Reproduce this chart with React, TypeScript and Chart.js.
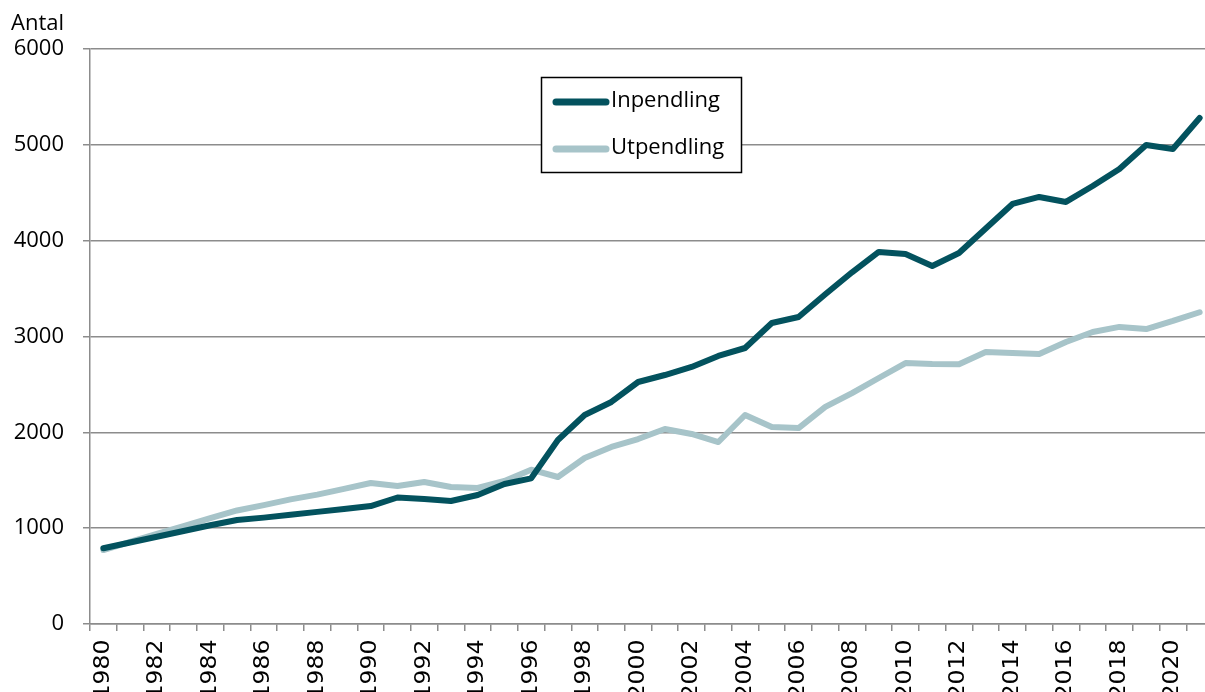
import React, { useEffect, useRef } from "react";
import { Chart, registerables } from "chart.js";

Chart.register(...registerables);

const years = [
  "1980", "1981", "1982", "1983", "1984", "1985", "1986", "1987", "1988", "1989",
  "1990", "1991", "1992", "1993", "1994", "1995", "1996", "1997", "1998", "1999",
  "2000", "2001", "2002", "2003", "2004", "2005", "2006", "2007", "2008", "2009",
  "2010", "2011", "2012", "2013", "2014", "2015", "2016", "2017", "2018", "2019",
  "2020", "2021",
];

const inpendling = [
  790, 850, 910, 970, 1030, 1085, 1110, 1140, 1170, 1200,
  1231, 1320, 1304, 1283, 1346, 1461, 1520, 1920, 2181, 2317,
  2525, 2598, 2682, 2797, 2880, 3141, 3204, 3440, 3670, 3882,
  3861, 3736, 3871, 4127, 4383, 4456, 4404, 4570, 4748, 4998,
  4957, 5280,
];

const utpendling = [
  772, 856, 940, 1020, 1105, 1185, 1240, 1300, 1350, 1410,
  1471, 1440, 1482, 1430, 1419, 1492, 1610, 1534, 1732, 1847,
  1930, 2035, 1983, 1899, 2181, 2056, 2045, 2265, 2410, 2567,
  2723, 2713, 2710, 2838, 2828, 2817, 2943, 3047, 3100, 3078,
  3162, 3253,
];

const seriesNames = ["Inpendling", "Utpendling"];
const seriesColors = ["#03525E", "#A7C4C9"];
const yTicks = [0, 1000, 2000, 3000, 4000, 5000, 6000];
const yTitle = "Antal";

const W = 1213;
const H = 720;
const FONT = "'Open Sans', sans-serif";
const XFONT = "'DejaVu Sans', sans-serif";
const GRID = "#8c8c8c";

const overlayPlugin = {
  id: "overlay",
  afterDraw(chart: any) {
    const ctx = chart.ctx as CanvasRenderingContext2D;
    const xs = chart.scales.x;
    // x tick labels (every second year), rotated to read bottom-to-top
    years.forEach((lab, i) => {
      if (i % 2 !== 0) return;
      const x = xs.getPixelForTick(i);
      ctx.save();
      ctx.font = `21px ${XFONT}`;
      ctx.fillStyle = "#000";
      ctx.textAlign = "right";
      ctx.textBaseline = "middle";
      ctx.translate(x, xs.top + 15.5);
      ctx.rotate(-Math.PI / 2);
      ctx.scale(1.12, 1);
      ctx.fillText(lab, 0, 0);
      ctx.restore();
    });

    ctx.save();
    // y title
    ctx.font = `22px ${FONT}`;
    ctx.fillStyle = "#000";
    ctx.textAlign = "left";
    ctx.textBaseline = "alphabetic";
    ctx.fillText(yTitle, 11, 30);
    // legend box
    const bx = 541.5, by = 77.5, bw = 200, bh = 95;
    ctx.fillStyle = "#fff";
    ctx.fillRect(bx, by, bw, bh);
    ctx.strokeStyle = "#000";
    ctx.lineWidth = 1.5;
    ctx.strokeRect(bx, by, bw, bh);
    const rows = [102, 149];
    chart.data.datasets.forEach((ds: any, i: number) => {
      ctx.strokeStyle = ds.borderColor;
      ctx.lineWidth = 7;
      ctx.lineCap = "round";
      ctx.beginPath();
      ctx.moveTo(556, rows[i]);
      ctx.lineTo(606, rows[i]);
      ctx.stroke();
      ctx.fillStyle = "#000";
      ctx.font = `22px ${FONT}`;
      ctx.textBaseline = "middle";
      ctx.fillText(ds.label, 611, rows[i] - 1);
    });
    ctx.restore();
  },
};

export default function App() {
  const ref = useRef<HTMLCanvasElement | null>(null);
  useEffect(() => {
    if (!ref.current) return;
    const chart = new Chart(ref.current, {
      type: "line",
      data: {
        labels: years,
        datasets: [
          {
            label: seriesNames[0],
            data: inpendling,
            borderColor: seriesColors[0],
            backgroundColor: seriesColors[0],
            borderWidth: 6,
            pointRadius: 0,
            tension: 0,
            borderJoinStyle: "round",
            borderCapStyle: "round",
          },
          {
            label: seriesNames[1],
            data: utpendling,
            borderColor: seriesColors[1],
            backgroundColor: seriesColors[1],
            borderWidth: 6,
            pointRadius: 0,
            tension: 0,
            borderJoinStyle: "round",
            borderCapStyle: "round",
          },
        ],
      },
      options: {
        responsive: false,
        animation: false,
        layout: { padding: { top: 49, left: 0, right: 0, bottom: 0 } },
        plugins: {
          legend: { display: false },
          title: { display: false },
          tooltip: { enabled: false },
        },
        scales: {
          x: {
            type: "category",
            offset: true,
            afterFit: (s: any) => {
              s.height = H - 624;
              s.paddingLeft = 0;
              s.paddingRight = 0;
            },
            grid: {
              offset: true,
              drawOnChartArea: false,
              drawTicks: true,
              tickLength: 7,
              color: GRID,
              lineWidth: 1.5,
            },
            border: { display: true, color: GRID, width: 1.5 },
            ticks: {
              display: false,
              autoSkip: false,
            },
          },
          y: {
            min: yTicks[0],
            max: yTicks[yTicks.length - 1],
            afterFit: (s: any) => {
              s.width = 90;
            },
            afterBuildTicks: (s: any) => {
              s.ticks = yTicks.map((v) => ({ value: v }));
            },
            grid: {
              color: GRID,
              lineWidth: 1.5,
              drawTicks: true,
              tickLength: 7,
            },
            border: { display: true, color: GRID, width: 1.5 },
            ticks: {
              padding: 19,
              color: "#000",
              font: { family: FONT, size: 22 },
              callback: (v: any) => String(v),
            },
          },
        },
      },
      plugins: [overlayPlugin],
    });
    return () => chart.destroy();
  }, []);

  return (
    <div
      style={{
        position: "fixed",
        left: 0,
        top: 0,
        width: 1205,
        height: 692,
        overflow: "hidden",
        background: "#fff",
      }}
    >
      <canvas ref={ref} width={W} height={H} style={{ width: W, height: H, display: "block" }} />
    </div>
  );
}
